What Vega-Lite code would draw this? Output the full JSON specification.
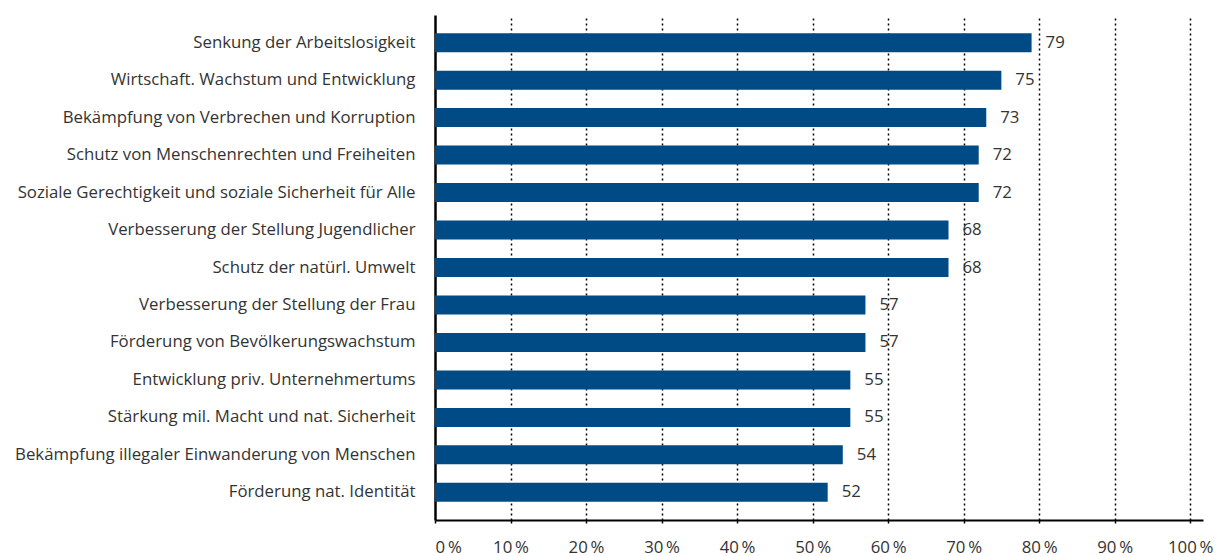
{
  "$schema": "https://vega.github.io/schema/vega-lite/v6.json",
  "autosize": {"type": "none"},
  "padding": {"left": 435, "top": 15, "right": 23, "bottom": 36},
  "width": 768,
  "height": 505,
  "background": "white",
  "config": {
    "view": {"stroke": null},
    "font": "Open Sans",
    "axis": {"labelFont": "Open Sans", "labelColor": "#333333", "labelFontSize": 16.8}
  },
  "data": {"values": [
    {"cat": "Senkung der Arbeitslosigkeit", "v": 79},
    {"cat": "Wirtschaft. Wachstum und Entwicklung", "v": 75},
    {"cat": "Bekämpfung von Verbrechen und Korruption", "v": 73},
    {"cat": "Schutz von Menschenrechten und Freiheiten", "v": 72},
    {"cat": "Soziale Gerechtigkeit und soziale Sicherheit für Alle", "v": 72},
    {"cat": "Verbesserung der Stellung Jugendlicher", "v": 68},
    {"cat": "Schutz der natürl. Umwelt", "v": 68},
    {"cat": "Verbesserung der Stellung der Frau", "v": 57},
    {"cat": "Förderung von Bevölkerungswachstum", "v": 57},
    {"cat": "Entwicklung priv. Unternehmertums", "v": 55},
    {"cat": "Stärkung mil. Macht und nat. Sicherheit", "v": 55},
    {"cat": "Bekämpfung illegaler Einwanderung von Menschen", "v": 54},
    {"cat": "Förderung nat. Identität", "v": 52}
  ]},
  "encoding": {
    "y": {
      "field": "cat", "type": "nominal", "sort": null, "title": null,
      "scale": {"paddingInner": 0.493, "paddingOuter": 0.485},
      "axis": {"ticks": false, "labelPadding": 20, "domainColor": "#000000", "domainWidth": 2.5, "labelLimit": 500}
    },
    "x": {
      "field": "v", "type": "quantitative", "title": null,
      "scale": {"domain": [0, 101.7], "nice": false, "zero": true},
      "axis": {
        "values": [0, 10, 20, 30, 40, 50, 60, 70, 80, 90, 100],
        "labelExpr": "datum.value + '\u2009%'",
        "domainColor": "#000000", "domainWidth": 2,
        "tickColor": "#000000", "tickSize": 3, "tickWidth": 1.5,
        "labelPadding": 16,
        "grid": true,
        "gridColor": {"condition": {"test": "datum.value == 0", "value": null}, "value": "#000000"},
        "gridDash": [2, 3], "gridWidth": 1.5
      }
    }
  },
  "layer": [
    {"mark": {"type": "bar", "color": "#004a85"}},
    {"mark": {"type": "text", "align": "left", "baseline": "middle", "dx": 14, "fontSize": 16.8, "color": "#333333", "font": "Open Sans"},
     "encoding": {"text": {"field": "v", "type": "quantitative"}}}
  ]
}
